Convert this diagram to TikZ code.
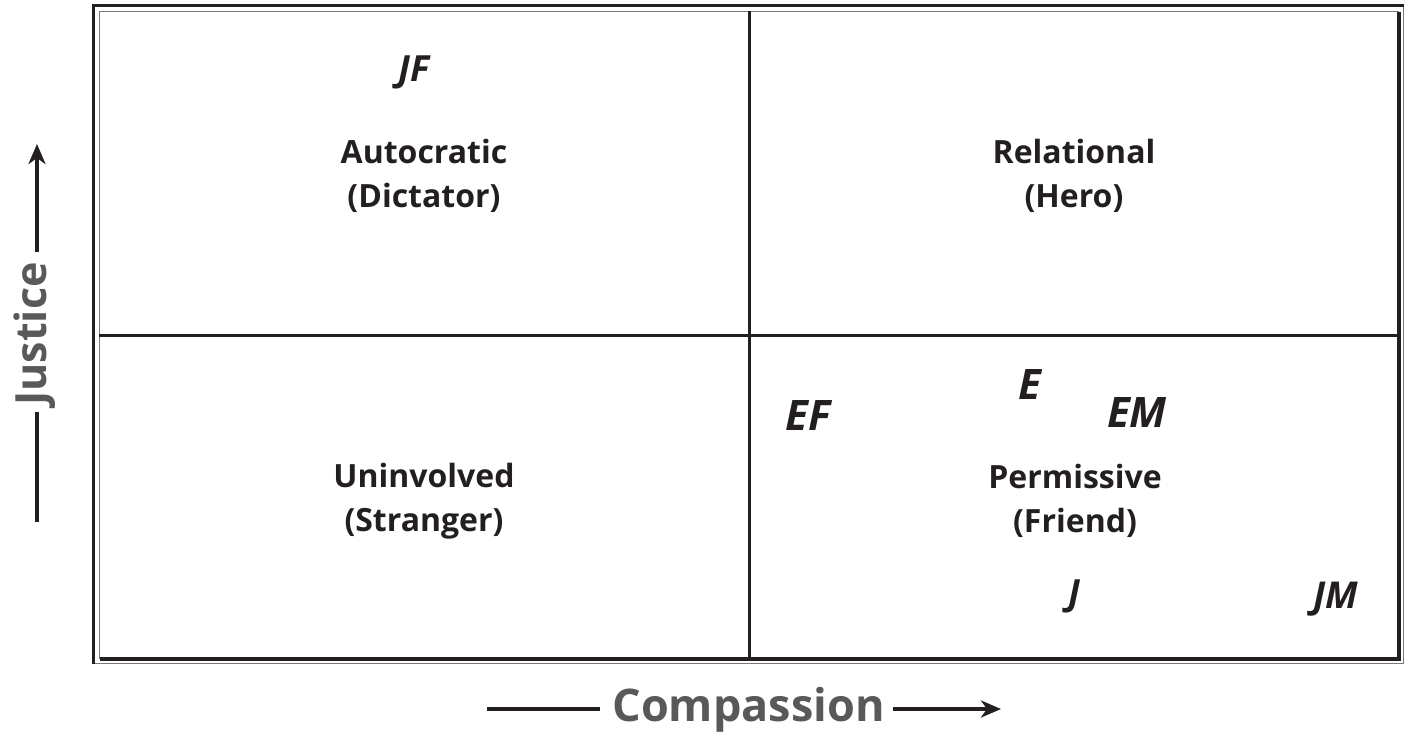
\documentclass[tikz,border=0pt]{standalone}
\usepackage{fontspec}
\setmainfont{Open Sans}
\usetikzlibrary{arrows.meta}
\definecolor{ink}{HTML}{231F20}
\definecolor{edge}{HTML}{7A7A7A}
\definecolor{axis}{HTML}{58595B}
\tikzset{
  quad/.style={font=\bfseries\fontsize{32}{44}\selectfont, text=ink, align=center, inner sep=0pt},
  tagA/.style={font=\bfseries\itshape\fontsize{36}{40}\selectfont, text=ink, anchor=base, inner sep=0pt},
  tagB/.style={font=\bfseries\itshape\fontsize{42}{46}\selectfont, text=ink, anchor=base, inner sep=0pt},
  axlabel/.style={font=\bfseries\fontsize{45}{50}\selectfont, text=axis, anchor=base, inner sep=0pt},
  axline/.style={draw=ink, line width=4pt},
  thickedge/.style={draw=ink, line width=3.5pt},
  thinedge/.style={draw=edge, line width=1.5pt},
  divider/.style={draw=ink, line width=3pt},
}
\begin{document}
\begin{tikzpicture}[x=1pt,y=-1pt]
\useasboundingbox (0,0) rectangle (1406,732);
% frame corners
\coordinate (oTL) at (93.5,5.5);
\coordinate (oBR) at (1403.5,663.5);
\coordinate (iTL) at (99.5,11.5);
\coordinate (iBR) at (1399,659);
% outer frame: thick top/left, thin bottom/right
\draw[thinedge] (oTL -| oBR) -- (oBR) -- (oBR -| oTL);
\draw[thickedge] (oBR -| oTL) -- (oTL) -- (oTL -| oBR);
% inner frame: thin top/left, thick bottom/right
\draw[thinedge] (iBR -| iTL) -- (iTL) -- (iTL -| iBR);
\draw[thickedge] (iTL -| iBR) -- (iBR) -- (iBR -| iTL);
% dividers
\coordinate (vT) at (749,11);
\coordinate (vB) at (749,659);
\coordinate (hL) at (99,335);
\coordinate (hR) at (1399,335);
\draw[divider] (vT) -- (vB);
\draw[divider] (hL) -- (hR);
% quadrant labels
\node[quad] (auto) at (424,176) {Autocratic\\(Dictator)};
\node[quad] (rel) at (1074,176) {Relational\\(Hero)};
\node[quad] (uninv) at (424,501) {Uninvolved\\(Stranger)};
\node[quad] (perm) at (1075,501) {Permissive\\(Friend)};
% tags
\node[tagA] (jf) at (414,81) {JF};
\node[tagB] (e) at (1030,399) {E};
\node[tagB] (ef) at (808,430) {EF};
\node[tagB] (em) at (1137,427) {EM};
\node[tagA] (j) at (1074,605) {J};
\node[tagA,font=\bfseries\itshape\fontsize{37}{40}\selectfont] (jm) at (1336,608) {JM};
% axes
\node[axlabel] (comp) at (748.5,721) {Compassion};
\coordinate (cL) at (487,709);
\coordinate (cLe) at (600,709);
\coordinate (cRs) at (893,709);
\coordinate (cR) at (1001,709);
\draw[axline] (cL) -- (cLe);
\draw[axline,-{Stealth[length=20pt,width=17pt,inset=6pt]}] (cRs) -- (cR);
\node[axlabel,rotate=90,font=\bfseries\fontsize{43}{48}\selectfont] (just) at (46,334) {Justice};
\coordinate (jB) at (37,522);
\coordinate (jBe) at (37,412);
\coordinate (jTs) at (37,252);
\coordinate (jT) at (37,144);
\draw[axline] (jB) -- (jBe);
\draw[axline,-{Stealth[length=20pt,width=17pt,inset=6pt]}] (jTs) -- (jT);
\end{tikzpicture}
\end{document}
